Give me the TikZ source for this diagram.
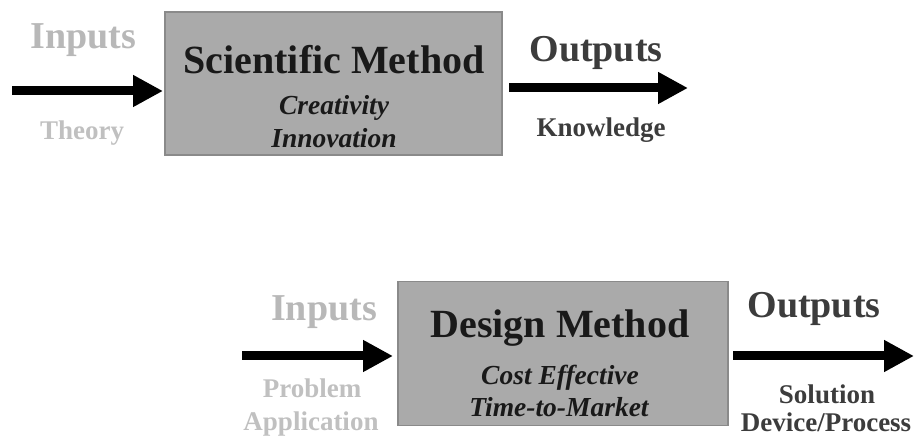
\documentclass[tikz,border=0pt]{standalone}
\usepackage{fontspec}
\setmainfont{Liberation Serif}
\usetikzlibrary{arrows.meta}
\definecolor{boxfill}{HTML}{AAAAAA}
\definecolor{boxline}{HTML}{8A8A8A}
\definecolor{ingray}{HTML}{B8B8B8}
\definecolor{inlabel}{HTML}{C0C0C0}
\definecolor{outgray}{HTML}{3C3C3C}
\tikzset{
  methodbox/.style={draw=boxline, fill=boxfill, line width=1.2bp, inner sep=0pt},
  txt/.style={inner sep=0pt, anchor=base},
  headtxt/.style={txt, font=\bfseries\fontsize{38bp}{40bp}\selectfont},
  titletxt/.style={txt, text=black!90, font=\bfseries\fontsize{40bp}{42bp}\selectfont},
  subtxt/.style={txt, text=black!90, font=\bfseries\itshape\fontsize{27.5bp}{30bp}\selectfont},
  labeltxt/.style={txt, font=\bfseries\fontsize{27bp}{30bp}\selectfont},
  flow/.style={line width=9bp, black, -{Triangle[length=30bp,width=30bp]}},
}
\begin{document}
\begin{tikzpicture}[x=1bp,y=-1bp]
\useasboundingbox (0,0) rectangle (915,436);
% top row
\node[methodbox, minimum width=337bp, minimum height=143bp] (sm) at (333.5,83.5) {};
\node[titletxt] (smt) at (334,74) {Scientific Method};
\node[subtxt] (sm1) at (334,115) {Creativity};
\node[subtxt] (sm2) at (334,148) {Innovation};
\node[headtxt, text=ingray] (in1) at (83.5,49) {Inputs};
\node[labeltxt, text=inlabel] (th) at (82,140) {Theory};
\node[headtxt, text=outgray] (out1) at (596,62) {Outputs};
\node[labeltxt, text=outgray] (kn) at (601,137) {Knowledge};
\coordinate (a1s) at (12,91);
\coordinate (a1e) at (163,91);
\coordinate (a2s) at (509,88);
\coordinate (a2e) at (688,88);
\draw[flow] (a1s) -- (a1e);
\draw[flow] (a2s) -- (a2e);
% bottom row
\node[methodbox, minimum width=330bp, minimum height=144bp] (dm) at (563,353.5) {};
\node[titletxt] (dmt) at (560,338) {Design Method};
\node[subtxt] (dm1) at (560,385) {Cost Effective};
\node[subtxt] (dm2) at (559,416) {Time-to-Market};
\node[headtxt, text=ingray] (in2) at (324,321) {Inputs};
\node[labeltxt, text=inlabel] (pr) at (312,397) {Problem};
\node[labeltxt, text=inlabel] (ap) at (311,430) {Application};
\node[headtxt, text=outgray] (out2) at (814,318) {Outputs};
\node[labeltxt, text=outgray] (so) at (827,403) {Solution};
\node[labeltxt, text=outgray] (dp) at (826,431) {Device/Process};
\coordinate (b1s) at (242,356);
\coordinate (b1e) at (393,356);
\coordinate (b2s) at (733,356);
\coordinate (b2e) at (914,356);
\draw[flow] (b1s) -- (b1e);
\draw[flow] (b2s) -- (b2e);
\end{tikzpicture}
\end{document}
